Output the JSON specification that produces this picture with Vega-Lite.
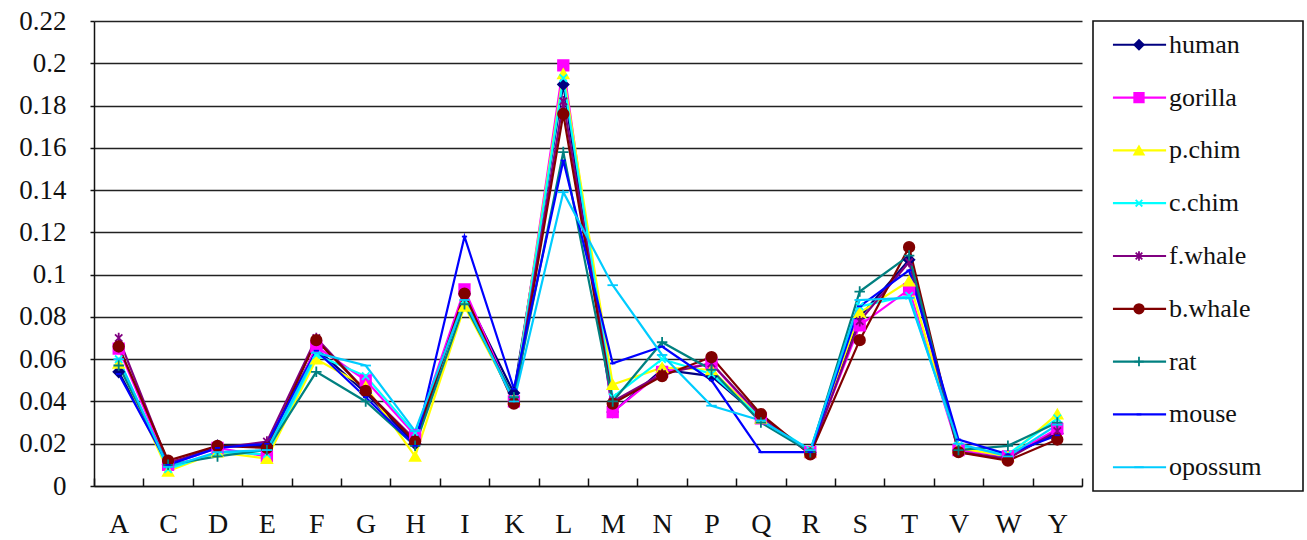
{
  "$schema": "https://vega.github.io/schema/vega-lite/v6.json",
  "background": "white",
  "padding": {"left": 18, "top": 7, "right": 0, "bottom": 0},
  "bounds": "flush",
  "spacing": 11,
  "config": {
    "font": "Liberation Serif, Times New Roman, serif",
    "axis": {"labelFont": "Liberation Serif, Times New Roman, serif", "labelColor": "#111", "domainColor": "#111", "tickColor": "#111", "domainWidth": 1.5, "tickWidth": 1.5}
  },
  "datasets": {
    "main": [
      {"s":"human","a":"A","v":0.054},{"s":"human","a":"C","v":0.010},{"s":"human","a":"D","v":0.019},{"s":"human","a":"E","v":0.019},{"s":"human","a":"F","v":0.065},{"s":"human","a":"G","v":0.044},{"s":"human","a":"H","v":0.020},{"s":"human","a":"I","v":0.091},{"s":"human","a":"K","v":0.044},{"s":"human","a":"L","v":0.190},{"s":"human","a":"M","v":0.035},{"s":"human","a":"N","v":0.055},{"s":"human","a":"P","v":0.052},{"s":"human","a":"Q","v":0.032},{"s":"human","a":"R","v":0.016},{"s":"human","a":"S","v":0.080},{"s":"human","a":"T","v":0.107},{"s":"human","a":"V","v":0.017},{"s":"human","a":"W","v":0.014},{"s":"human","a":"Y","v":0.025},
      {"s":"gorilla","a":"A","v":0.065},{"s":"gorilla","a":"C","v":0.010},{"s":"gorilla","a":"D","v":0.018},{"s":"gorilla","a":"E","v":0.014},{"s":"gorilla","a":"F","v":0.066},{"s":"gorilla","a":"G","v":0.050},{"s":"gorilla","a":"H","v":0.024},{"s":"gorilla","a":"I","v":0.093},{"s":"gorilla","a":"K","v":0.040},{"s":"gorilla","a":"L","v":0.199},{"s":"gorilla","a":"M","v":0.035},{"s":"gorilla","a":"N","v":0.054},{"s":"gorilla","a":"P","v":0.058},{"s":"gorilla","a":"Q","v":0.032},{"s":"gorilla","a":"R","v":0.016},{"s":"gorilla","a":"S","v":0.076},{"s":"gorilla","a":"T","v":0.093},{"s":"gorilla","a":"V","v":0.017},{"s":"gorilla","a":"W","v":0.014},{"s":"gorilla","a":"Y","v":0.027},
      {"s":"p.chim","a":"A","v":0.058},{"s":"p.chim","a":"C","v":0.007},{"s":"p.chim","a":"D","v":0.016},{"s":"p.chim","a":"E","v":0.013},{"s":"p.chim","a":"F","v":0.060},{"s":"p.chim","a":"G","v":0.047},{"s":"p.chim","a":"H","v":0.014},{"s":"p.chim","a":"I","v":0.085},{"s":"p.chim","a":"K","v":0.041},{"s":"p.chim","a":"L","v":0.195},{"s":"p.chim","a":"M","v":0.048},{"s":"p.chim","a":"N","v":0.056},{"s":"p.chim","a":"P","v":0.055},{"s":"p.chim","a":"Q","v":0.032},{"s":"p.chim","a":"R","v":0.016},{"s":"p.chim","a":"S","v":0.082},{"s":"p.chim","a":"T","v":0.097},{"s":"p.chim","a":"V","v":0.018},{"s":"p.chim","a":"W","v":0.014},{"s":"p.chim","a":"Y","v":0.034},
      {"s":"c.chim","a":"A","v":0.060},{"s":"c.chim","a":"C","v":0.008},{"s":"c.chim","a":"D","v":0.016},{"s":"c.chim","a":"E","v":0.015},{"s":"c.chim","a":"F","v":0.062},{"s":"c.chim","a":"G","v":0.052},{"s":"c.chim","a":"H","v":0.025},{"s":"c.chim","a":"I","v":0.088},{"s":"c.chim","a":"K","v":0.041},{"s":"c.chim","a":"L","v":0.193},{"s":"c.chim","a":"M","v":0.042},{"s":"c.chim","a":"N","v":0.060},{"s":"c.chim","a":"P","v":0.053},{"s":"c.chim","a":"Q","v":0.032},{"s":"c.chim","a":"R","v":0.017},{"s":"c.chim","a":"S","v":0.085},{"s":"c.chim","a":"T","v":0.090},{"s":"c.chim","a":"V","v":0.019},{"s":"c.chim","a":"W","v":0.015},{"s":"c.chim","a":"Y","v":0.032},
      {"s":"f.whale","a":"A","v":0.070},{"s":"f.whale","a":"C","v":0.011},{"s":"f.whale","a":"D","v":0.018},{"s":"f.whale","a":"E","v":0.021},{"s":"f.whale","a":"F","v":0.070},{"s":"f.whale","a":"G","v":0.045},{"s":"f.whale","a":"H","v":0.022},{"s":"f.whale","a":"I","v":0.090},{"s":"f.whale","a":"K","v":0.040},{"s":"f.whale","a":"L","v":0.182},{"s":"f.whale","a":"M","v":0.040},{"s":"f.whale","a":"N","v":0.053},{"s":"f.whale","a":"P","v":0.058},{"s":"f.whale","a":"Q","v":0.033},{"s":"f.whale","a":"R","v":0.015},{"s":"f.whale","a":"S","v":0.078},{"s":"f.whale","a":"T","v":0.106},{"s":"f.whale","a":"V","v":0.016},{"s":"f.whale","a":"W","v":0.013},{"s":"f.whale","a":"Y","v":0.026},
      {"s":"b.whale","a":"A","v":0.066},{"s":"b.whale","a":"C","v":0.012},{"s":"b.whale","a":"D","v":0.019},{"s":"b.whale","a":"E","v":0.018},{"s":"b.whale","a":"F","v":0.069},{"s":"b.whale","a":"G","v":0.045},{"s":"b.whale","a":"H","v":0.021},{"s":"b.whale","a":"I","v":0.091},{"s":"b.whale","a":"K","v":0.039},{"s":"b.whale","a":"L","v":0.176},{"s":"b.whale","a":"M","v":0.039},{"s":"b.whale","a":"N","v":0.052},{"s":"b.whale","a":"P","v":0.061},{"s":"b.whale","a":"Q","v":0.034},{"s":"b.whale","a":"R","v":0.015},{"s":"b.whale","a":"S","v":0.069},{"s":"b.whale","a":"T","v":0.113},{"s":"b.whale","a":"V","v":0.016},{"s":"b.whale","a":"W","v":0.012},{"s":"b.whale","a":"Y","v":0.022},
      {"s":"rat","a":"A","v":0.057},{"s":"rat","a":"C","v":0.010},{"s":"rat","a":"D","v":0.014},{"s":"rat","a":"E","v":0.017},{"s":"rat","a":"F","v":0.054},{"s":"rat","a":"G","v":0.040},{"s":"rat","a":"H","v":0.019},{"s":"rat","a":"I","v":0.086},{"s":"rat","a":"K","v":0.042},{"s":"rat","a":"L","v":0.158},{"s":"rat","a":"M","v":0.040},{"s":"rat","a":"N","v":0.068},{"s":"rat","a":"P","v":0.055},{"s":"rat","a":"Q","v":0.030},{"s":"rat","a":"R","v":0.016},{"s":"rat","a":"S","v":0.092},{"s":"rat","a":"T","v":0.109},{"s":"rat","a":"V","v":0.017},{"s":"rat","a":"W","v":0.019},{"s":"rat","a":"Y","v":0.030},
      {"s":"mouse","a":"A","v":0.053},{"s":"mouse","a":"C","v":0.010},{"s":"mouse","a":"D","v":0.018},{"s":"mouse","a":"E","v":0.020},{"s":"mouse","a":"F","v":0.064},{"s":"mouse","a":"G","v":0.042},{"s":"mouse","a":"H","v":0.019},{"s":"mouse","a":"I","v":0.118},{"s":"mouse","a":"K","v":0.046},{"s":"mouse","a":"L","v":0.154},{"s":"mouse","a":"M","v":0.058},{"s":"mouse","a":"N","v":0.066},{"s":"mouse","a":"P","v":0.050},{"s":"mouse","a":"Q","v":0.016},{"s":"mouse","a":"R","v":0.016},{"s":"mouse","a":"S","v":0.085},{"s":"mouse","a":"T","v":0.102},{"s":"mouse","a":"V","v":0.022},{"s":"mouse","a":"W","v":0.015},{"s":"mouse","a":"Y","v":0.024},
      {"s":"opossum","a":"A","v":0.060},{"s":"opossum","a":"C","v":0.009},{"s":"opossum","a":"D","v":0.016},{"s":"opossum","a":"E","v":0.017},{"s":"opossum","a":"F","v":0.063},{"s":"opossum","a":"G","v":0.057},{"s":"opossum","a":"H","v":0.026},{"s":"opossum","a":"I","v":0.088},{"s":"opossum","a":"K","v":0.040},{"s":"opossum","a":"L","v":0.139},{"s":"opossum","a":"M","v":0.095},{"s":"opossum","a":"N","v":0.062},{"s":"opossum","a":"P","v":0.038},{"s":"opossum","a":"Q","v":0.031},{"s":"opossum","a":"R","v":0.017},{"s":"opossum","a":"S","v":0.088},{"s":"opossum","a":"T","v":0.089},{"s":"opossum","a":"V","v":0.020},{"s":"opossum","a":"W","v":0.014},{"s":"opossum","a":"Y","v":0.029}
    ],
    "legend": [
      {"s":"human"},{"s":"gorilla"},{"s":"p.chim"},{"s":"c.chim"},{"s":"f.whale"},{"s":"b.whale"},{"s":"rat"},{"s":"mouse"},{"s":"opossum"}
    ]
  },
  "hconcat": [
    {
      "width": 988,
      "height": 465,
      "view": {"stroke": null},
      "data": {"name": "main"},
      "encoding": {
        "x": {"field": "a", "type": "nominal", "sort": null,
              "scale": {"type": "band", "paddingInner": 0, "paddingOuter": 0},
              "axis": {"title": null, "labelAngle": 0, "labelFontSize": 28, "tickBand": "extent", "tickSize": -8, "labelPadding": 32, "grid": false}},
        "y": {"field": "v", "type": "quantitative",
              "scale": {"domain": [0, 0.22], "nice": false, "zero": true},
              "axis": {"title": null, "values": [0,0.02,0.04,0.06,0.08,0.1,0.12,0.14,0.16,0.18,0.2,0.22], "format": "~g", "labelFontSize": 27, "tickSize": 4, "labelPadding": 24, "grid": true, "gridColor": "#222", "gridWidth": 1.6, "gridOpacity": 1}},
        "color": {"field": "s", "type": "nominal", "legend": null,
                  "scale": {"domain": ["human","gorilla","p.chim","c.chim","f.whale","b.whale","rat","mouse","opossum"],
                            "range": ["#000080","#FF00FF","#FFFF00","#00FFFF","#800080","#800000","#008080","#0000FF","#00CCFF"]}}
      },
      "layer": [
        {"mark": {"type": "line", "strokeWidth": 2.2}},
        {"mark": {"type": "point", "filled": true, "size": 110, "strokeWidth": 1.8, "opacity": 1},
         "encoding": {
           "stroke": {"field": "s", "type": "nominal", "legend": null,
                      "scale": {"domain": ["human","gorilla","p.chim","c.chim","f.whale","b.whale","rat","mouse","opossum"],
                                "range": ["#000080","#FF00FF","#FFFF00","#00FFFF","#800080","#800000","#008080","#0000FF","#00CCFF"]}},
           "shape": {"field": "s", "type": "nominal", "legend": null,
                     "scale": {"domain": ["human","gorilla","p.chim","c.chim","f.whale","b.whale","rat","mouse","opossum"],
                               "range": ["diamond","square","triangle-up","M-0.7,-0.7L0.7,0.7M-0.7,0.7L0.7,-0.7","M-0.7,-0.7L0.7,0.7M-0.7,0.7L0.7,-0.7M0,-1L0,1","circle","M-1,0L1,0M0,-1L0,1","M-0.5,0L0.5,0","M-1,0L1,0"]}}
         }}
      ]
    },
    {
      "width": 210,
      "height": 470,
      "view": {"stroke": "#111", "strokeWidth": 1.6},
      "data": {"name": "legend"},
      "encoding": {
        "y": {"field": "s", "type": "nominal", "sort": null, "axis": null,
              "scale": {"type": "point", "padding": 0.45}},
        "color": {"field": "s", "type": "nominal", "legend": null,
                  "scale": {"domain": ["human","gorilla","p.chim","c.chim","f.whale","b.whale","rat","mouse","opossum"],
                            "range": ["#000080","#FF00FF","#FFFF00","#00FFFF","#800080","#800000","#008080","#0000FF","#00CCFF"]}}
      },
      "layer": [
        {"mark": {"type": "rule", "strokeWidth": 2.2},
         "encoding": {
           "x": {"datum": 0.095, "type": "quantitative", "scale": {"domain": [0, 1]}, "axis": null},
           "x2": {"datum": 0.348}
         }},
        {"mark": {"type": "point", "filled": true, "size": 90, "strokeWidth": 1.8, "opacity": 1},
         "encoding": {
           "x": {"datum": 0.219, "type": "quantitative"},
           "stroke": {"field": "s", "type": "nominal", "legend": null,
                      "scale": {"domain": ["human","gorilla","p.chim","c.chim","f.whale","b.whale","rat","mouse","opossum"],
                                "range": ["#000080","#FF00FF","#FFFF00","#00FFFF","#800080","#800000","#008080","#0000FF","#00CCFF"]}},
           "shape": {"field": "s", "type": "nominal", "legend": null,
                     "scale": {"domain": ["human","gorilla","p.chim","c.chim","f.whale","b.whale","rat","mouse","opossum"],
                               "range": ["diamond","square","triangle-up","M-0.7,-0.7L0.7,0.7M-0.7,0.7L0.7,-0.7","M-0.7,-0.7L0.7,0.7M-0.7,0.7L0.7,-0.7M0,-1L0,1","circle","M-1,0L1,0M0,-1L0,1","M-0.5,0L0.5,0","M-1,0L1,0"]}}
         }},
        {"mark": {"type": "text", "align": "left", "baseline": "middle", "fontSize": 26, "font": "Liberation Serif, Times New Roman, serif"},
         "encoding": {
           "x": {"datum": 0.362, "type": "quantitative"},
           "text": {"field": "s"},
           "color": {"value": "#111"}
         }}
      ]
    }
  ]
}
